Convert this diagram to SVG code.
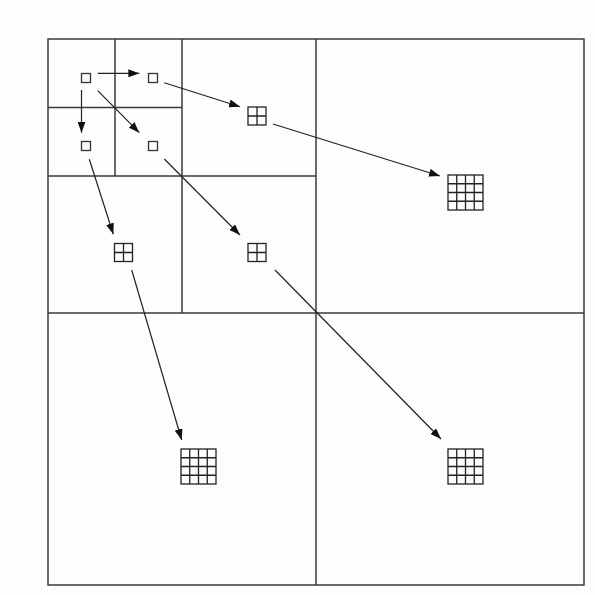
<svg xmlns="http://www.w3.org/2000/svg" width="595" height="595" viewBox="0 0 595 595">
<style>
.frame{fill:none;stroke:#3a3a3a;stroke-width:1.5}
.div{stroke:#3a3a3a;stroke-width:1.5}
.sq{fill:none;stroke:#333;stroke-width:1.3}
.grid{fill:none;stroke:#222;stroke-width:1.3}
.arr{stroke:#222;stroke-width:1.2;fill:none;marker-end:url(#ah)}
</style>
<defs>
<marker id="ah" markerUnits="userSpaceOnUse" markerWidth="11" markerHeight="8" refX="11" refY="4" orient="auto">
<path d="M0,0 L11,4 L0,8 z" fill="#111"/>
</marker>
<g id="g2">
<rect class="grid" x="0" y="0" width="18" height="18"/>
<path class="grid" d="M9,0 V18 M0,9 H18"/>
</g>
<g id="g4">
<rect class="grid" x="0" y="0" width="35" height="35"/>
<path class="grid" d="M8.75,0 V35 M17.5,0 V35 M26.25,0 V35 M0,8.75 H35 M0,17.5 H35 M0,26.25 H35"/>
</g>
</defs>
<rect width="595" height="595" fill="#fdfdfd"/>
<g id="quadtree">
<rect class="frame" x="48" y="39" width="536" height="546"/>
<path class="div" d="M316,39 V585 M48,313 H584 M182,39 V313 M48,176 H316 M115,39 V176 M48,107.5 H182"/>
</g>
<g id="level0">
<rect id="s1" class="sq" x="81.5" y="73.5" width="9" height="9"/>
<rect id="s2" class="sq" x="148.5" y="73.5" width="9" height="9"/>
<rect id="s3" class="sq" x="81.5" y="141.5" width="9" height="9"/>
<rect id="s4" class="sq" x="148.5" y="141.5" width="9" height="9"/>
</g>
<g id="level1">
<use id="m1" href="#g2" x="248" y="107"/>
<use id="m2" href="#g2" x="114.5" y="243.5"/>
<use id="m3" href="#g2" x="248" y="243.5"/>
</g>
<g id="level2">
<use id="b1" href="#g4" x="448" y="175"/>
<use id="b2" href="#g4" x="181" y="449"/>
<use id="b3" href="#g4" x="448" y="449"/>
</g>
<g id="connectors">
<line class="arr" x1="97.7" y1="73.3" x2="139.3" y2="73.3"/>
<line class="arr" x1="81.5" y1="90" x2="81.5" y2="132.7"/>
<line class="arr" x1="97.7" y1="90.7" x2="139.3" y2="132.7"/>
<line class="arr" x1="164.3" y1="82.7" x2="240" y2="106.7"/>
<line class="arr" x1="89.3" y1="159.3" x2="113.3" y2="234.3"/>
<line class="arr" x1="164.3" y1="159" x2="240" y2="235"/>
<line class="arr" x1="273" y1="124" x2="440" y2="176"/>
<line class="arr" x1="131.7" y1="270" x2="181.7" y2="440"/>
<line class="arr" x1="275" y1="270" x2="441" y2="439"/>
</g>
</svg>
